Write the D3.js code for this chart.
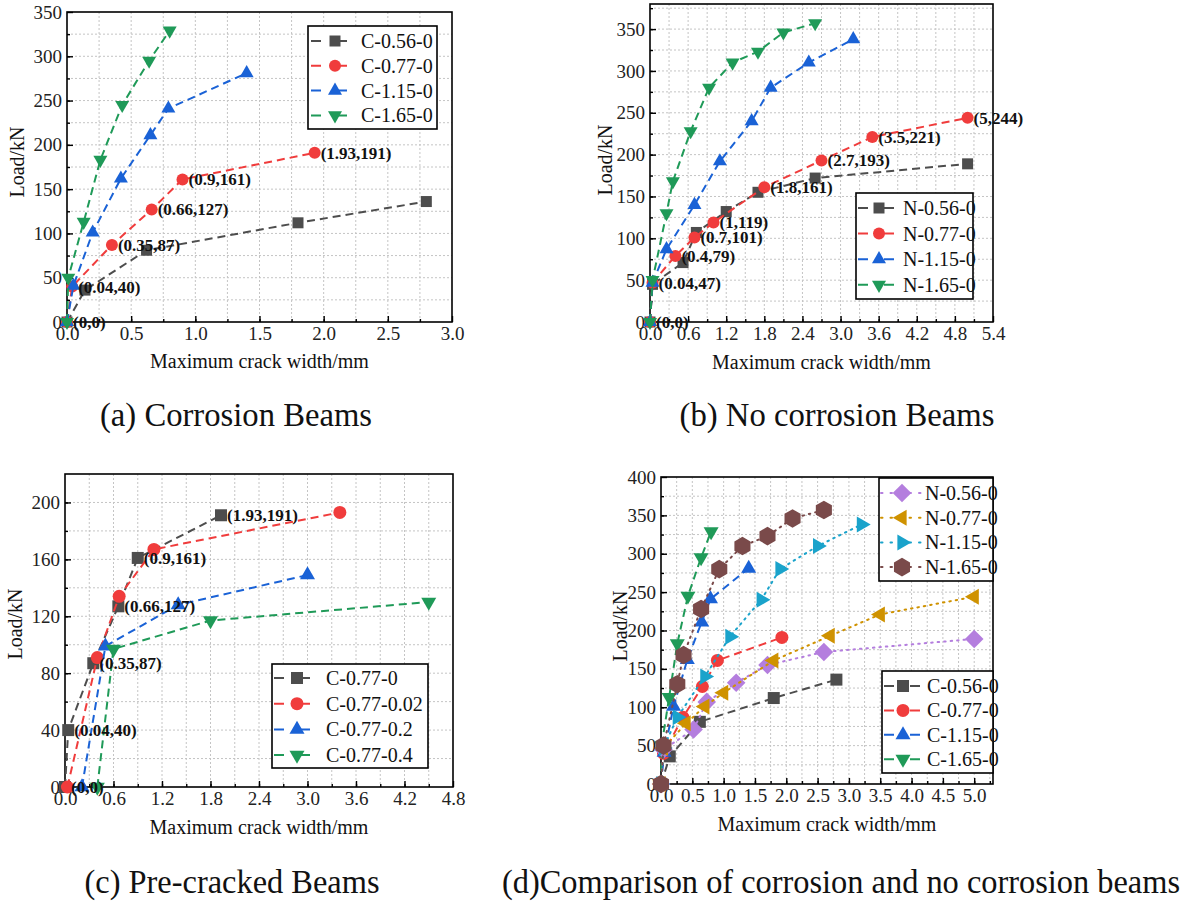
<!DOCTYPE html>
<html lang="en">
<head>
  <meta charset="UTF-8">
  <title>Load vs maximum crack width</title>
  <script src="https://d3js.org/d3.v7.min.js"></script>
  <style>
    body { margin: 0; background: #ffffff; }
    svg { display: block; font-family: 'Liberation Serif', 'Times New Roman', serif; }
    .grid line { stroke: #c4c4c4; stroke-width: 1; stroke-dasharray: 2,2; }
    .tick text { font-family: 'Liberation Serif', 'Times New Roman', serif; font-size: 19px; fill: #222; }
    .tick line { stroke: #000; stroke-width: 1.4; }
    .note { font-size: 17px; font-weight: bold; fill: #111; }
    .legend text { font-size: 20px; fill: #111; }
  </style>
</head>
<body>
<script>
// ---- data: [crack width mm, load kN] ----
// (a) corrosion beams
const C056 = [[0,0],[0.14,36],[0.62,81],[1.8,112],[2.8,136]];
const C077 = [[0,0],[0.04,40],[0.35,87],[0.66,127],[0.9,161],[1.93,191]];
const C115 = [[0,0],[0.05,41],[0.2,101],[0.42,162],[0.65,211],[0.79,241],[1.4,281]];
const C165 = [[0,0],[0.01,50],[0.13,113],[0.26,183],[0.43,245],[0.64,295],[0.8,329]];
// (b) no corrosion beams
const N056 = [[0,0],[0.04,45],[0.52,71],[0.73,107],[1.2,132],[1.7,155],[2.6,172],[5,189]];
const N077 = [[0,0],[0.04,47],[0.4,79],[0.7,101],[1,119],[1.8,161],[2.7,193],[3.5,221],[5,244]];
const N115 = [[0,0],[0.04,47],[0.26,87],[0.7,140],[1.1,192],[1.6,240],[1.9,280],[2.5,310],[3.2,338]];
const N165 = [[0,0],[0.04,50],[0.26,130],[0.36,168],[0.64,228],[0.93,280],[1.3,310],[1.7,323],[2.1,346],[2.6,357]];
// (c) pre-cracked beams
const P000 = [[0,0],[0.04,40],[0.35,87],[0.66,127],[0.9,161],[1.93,191]];
const P002 = [[0.03,0],[0.4,91],[0.67,134],[1.1,167],[3.4,193]];
const P020 = [[0.21,0],[0.5,99],[1.4,128],[3.0,149]];
const P040 = [[0.4,0],[0.6,97],[1.8,117],[4.5,130]];

const namesC = ["C-0.56-0","C-0.77-0","C-1.15-0","C-1.65-0"];
const namesN = ["N-0.56-0","N-0.77-0","N-1.15-0","N-1.65-0"];
const namesP = ["C-0.77-0","C-0.77-0.02","C-0.77-0.2","C-0.77-0.4"];
const captions = ["(a) Corrosion Beams","(b) No corrosion Beams","(c) Pre-cracked Beams","(d)Comparison of corrosion and no corrosion beams"];

const W = 1192, H = 905;
const col = { gray: "#4d4d4d", red: "#f03c3c", blue: "#1a62d6", green: "#1f9a58",
  purple: "#b47ede", orange: "#cf9200", cyan: "#1aa3cb", brown: "#7a4a4a" };
const dashed = "8,5", dotted = "1.5,5";

const svg = d3.select("body").append("svg").attr("width", W).attr("height", H);

function markerPath(type, s) {
  if (type === "square") return d3.symbol(d3.symbolSquare, s * s)();
  if (type === "circle") return d3.symbol(d3.symbolCircle, Math.PI * s * s / 4)();
  if (type === "diamond") {
    const r = s * 0.62;
    return `M0,${-r}L${r},0L0,${r}L${-r},0Z`;
  }
  if (type === "hex") {
    const r = s * 0.58;
    return d3.range(6).map((k, i) => {
      const a = Math.PI / 3 * k + Math.PI / 6;
      return (i ? "L" : "M") + (r * Math.cos(a)).toFixed(2) + "," + (r * Math.sin(a)).toFixed(2);
    }).join("") + "Z";
  }
  // triangles: side s, centred on centroid
  const h = s * Math.sqrt(3) / 2;
  const pts = { up: [[0,-2*h/3],[s/2,h/3],[-s/2,h/3]],
                down: [[0,2*h/3],[s/2,-h/3],[-s/2,-h/3]],
                left: [[-2*h/3,0],[h/3,s/2],[h/3,-s/2]],
                right: [[2*h/3,0],[-h/3,s/2],[-h/3,-s/2]] }[type];
  return "M" + pts.map(p => p.join(",")).join("L") + "Z";
}

function drawPanel(p) {
  const x = d3.scaleLinear().domain(p.xDomain).range([p.left, p.right]);
  const y = d3.scaleLinear().domain(p.yDomain).range([p.bottom, p.top]);
  const g = svg.append("g");
  const eps = 1e-9;
  const xMinor = d3.range(0, p.xDomain[1] + eps, p.xStep / 2).filter(v => v > eps && v < p.xDomain[1] - eps);
  const yMinor = d3.range(0, p.yDomain[1] + eps, p.yStep / 2).filter(v => v > eps && v < p.yDomain[1] - eps);
  const xMajor = d3.range(0, p.xDomain[1] + eps, p.xStep);
  const yMajor = d3.range(0, p.yDomain[1] + eps, p.yStep);

  const grid = g.append("g").attr("class", "grid");
  grid.selectAll(null).data(xMinor).join("line")
    .attr("x1", d => x(d)).attr("x2", d => x(d)).attr("y1", p.top).attr("y2", p.bottom);
  grid.selectAll(null).data(yMinor).join("line")
    .attr("y1", d => y(d)).attr("y2", d => y(d)).attr("x1", p.left).attr("x2", p.right);

  // minor ticks
  g.append("g").attr("transform", `translate(0,${p.bottom})`)
    .call(d3.axisBottom(x).tickValues(xMinor).tickSize(-3).tickFormat(""))
    .call(a => a.select(".domain").remove());
  g.append("g").attr("transform", `translate(${p.left},0)`)
    .call(d3.axisLeft(y).tickValues(yMinor).tickSize(-3).tickFormat(""))
    .call(a => a.select(".domain").remove());
  // major ticks
  g.append("g").attr("transform", `translate(0,${p.bottom})`)
    .call(d3.axisBottom(x).tickValues(xMajor).tickSize(-6).tickPadding(5).tickFormat(d3.format(".1f")))
    .call(a => a.select(".domain").remove());
  g.append("g").attr("transform", `translate(${p.left},0)`)
    .call(d3.axisLeft(y).tickValues(yMajor).tickSize(-6).tickPadding(5).tickFormat(d3.format("d")))
    .call(a => a.select(".domain").remove());

  g.append("rect").attr("x", p.left).attr("y", p.top)
    .attr("width", p.right - p.left).attr("height", p.bottom - p.top)
    .attr("fill", "none").attr("stroke", "#000").attr("stroke-width", 1.6);

  const line = d3.line().x(d => x(d[0])).y(d => y(d[1]));
  p.series.forEach(s => {
    g.append("path").datum(s.data).attr("d", line)
      .attr("fill", "none").attr("stroke", s.color).attr("stroke-width", 2)
      .attr("stroke-dasharray", s.dash).attr("stroke-linecap", s.dash === dotted ? "round" : "butt");
    g.selectAll(null).data(s.data).join("path")
      .attr("transform", d => `translate(${x(d[0])},${y(d[1])})`)
      .attr("d", markerPath(s.marker, s.size)).attr("fill", s.color);
  });

  if (p.notes) {
    g.selectAll(null).data(p.notes).join("text").attr("class", "note")
      .attr("x", d => x(d[0]) + 6).attr("y", d => y(d[1]))
      .attr("dy", "0.35em")
      .text(d => `(${d[0]},${d[1]})`);
  }

  g.append("text").attr("x", (p.left + p.right) / 2).attr("y", p.xTitleY)
    .attr("text-anchor", "middle").attr("font-size", 20).attr("fill", "#111")
    .text("Maximum crack width/mm");
  g.append("text").attr("transform", `translate(${p.yTitleX},${p.yTitleY}) rotate(-90)`)
    .attr("text-anchor", "middle").attr("font-size", 20).attr("fill", "#111")
    .text("Load/kN");

  p.legends.forEach(L => {
    const lg = g.append("g").attr("class", "legend");
    lg.append("rect").attr("x", L.x).attr("y", L.y).attr("width", L.w).attr("height", L.h)
      .attr("fill", "#fff").attr("stroke", "#000").attr("stroke-width", 1.6);
    L.items.forEach((s, i) => {
      const ry = L.y0 + i * L.dy;
      lg.append("line").attr("x1", L.lx[0]).attr("x2", L.lx[1]).attr("y1", ry).attr("y2", ry)
        .attr("stroke", s.color).attr("stroke-width", 2)
        .attr("stroke-dasharray", s.dash === dotted ? "1.5,8" : "10,16")
        .attr("stroke-linecap", s.dash === dotted ? "round" : "butt");
      lg.append("path").attr("transform", `translate(${L.mx},${ry})`)
        .attr("d", markerPath(s.marker, s.size)).attr("fill", s.color);
      lg.append("text").attr("x", L.tx).attr("y", ry).attr("dy", "0.35em").text(s.name);
    });
  });
}

const cSeries = [
  { name: namesC[0], data: C056, color: col.gray, marker: "square", size: 11, dash: dashed },
  { name: namesC[1], data: C077, color: col.red, marker: "circle", size: 12, dash: dashed },
  { name: namesC[2], data: C115, color: col.blue, marker: "up", size: 14, dash: dashed },
  { name: namesC[3], data: C165, color: col.green, marker: "down", size: 14, dash: dashed }
];
const nSeries = [
  { name: namesN[0], data: N056, color: col.gray, marker: "square", size: 11, dash: dashed },
  { name: namesN[1], data: N077, color: col.red, marker: "circle", size: 12, dash: dashed },
  { name: namesN[2], data: N115, color: col.blue, marker: "up", size: 14, dash: dashed },
  { name: namesN[3], data: N165, color: col.green, marker: "down", size: 14, dash: dashed }
];
const pSeries = [
  { name: namesP[0], data: P000, color: col.gray, marker: "square", size: 12, dash: dashed },
  { name: namesP[1], data: P002, color: col.red, marker: "circle", size: 13, dash: dashed },
  { name: namesP[2], data: P020, color: col.blue, marker: "up", size: 15, dash: dashed },
  { name: namesP[3], data: P040, color: col.green, marker: "down", size: 15, dash: dashed }
];
const dN = [
  { name: namesN[0], data: N056, color: col.purple, marker: "diamond", size: 15, dash: dotted },
  { name: namesN[1], data: N077, color: col.orange, marker: "left", size: 16, dash: dotted },
  { name: namesN[2], data: N115, color: col.cyan, marker: "right", size: 16, dash: dotted },
  { name: namesN[3], data: N165, color: col.brown, marker: "hex", size: 16, dash: dotted }
];
const dC = cSeries.map(s => Object.assign({}, s, { size: s.size + 1 }));

drawPanel({
  left: 67, right: 452, top: 12, bottom: 322, xDomain: [0, 3], yDomain: [0, 350], xStep: 0.5, yStep: 50,
  series: cSeries, notes: C077, xTitleY: 368, yTitleX: 24, yTitleY: 162,
  legends: [{ x: 308, y: 26, w: 129, h: 103, y0: 41, dy: 24.8, lx: [311, 359], mx: 335, tx: 361, items: cSeries }]
});
drawPanel({
  left: 650, right: 993, top: 4, bottom: 322, xDomain: [0, 5.4], yDomain: [0, 380], xStep: 0.6, yStep: 50,
  series: nSeries, notes: N077, xTitleY: 369, yTitleX: 612, yTitleY: 160,
  legends: [{ x: 856, y: 193, w: 117, h: 106, y0: 208, dy: 25.6, lx: [858, 898], mx: 879, tx: 903, items: nSeries }]
});
drawPanel({
  left: 65, right: 453, top: 474, bottom: 787, xDomain: [0, 4.8], yDomain: [0, 220], xStep: 0.6, yStep: 40,
  series: pSeries, notes: P000, xTitleY: 834, yTitleX: 22, yTitleY: 624,
  legends: [{ x: 272, y: 664, w: 156, h: 104, y0: 678, dy: 25.7, lx: [274, 318], mx: 297, tx: 326, items: pSeries }]
});
drawPanel({
  left: 661, right: 993, top: 477, bottom: 784, xDomain: [0, 5.3], yDomain: [0, 400], xStep: 0.5, yStep: 50,
  series: dC.concat(dN), notes: null, xTitleY: 831, yTitleX: 627, yTitleY: 626,
  legends: [
    { x: 879, y: 478, w: 114, h: 103, y0: 493, dy: 24.7, lx: [881, 923], mx: 902, tx: 925, items: dN },
    { x: 882, y: 671, w: 111, h: 102, y0: 686, dy: 24.4, lx: [884, 922], mx: 903, tx: 927, items: dC }
  ]
});

// captions (condensed serif, as in the source figure)
const capPos = [[236, 426, 272], [837, 426, 315], [232, 893, 295], [841, 893, 678]];
svg.selectAll(null).data(captions).join("text")
  .attr("x", (d, i) => capPos[i][0]).attr("y", (d, i) => capPos[i][1])
  .attr("text-anchor", "middle").attr("font-size", 33).attr("fill", "#111")
  .attr("textLength", (d, i) => capPos[i][2]).attr("lengthAdjust", "spacingAndGlyphs")
  .text(d => d);
</script>
</body>
</html>
